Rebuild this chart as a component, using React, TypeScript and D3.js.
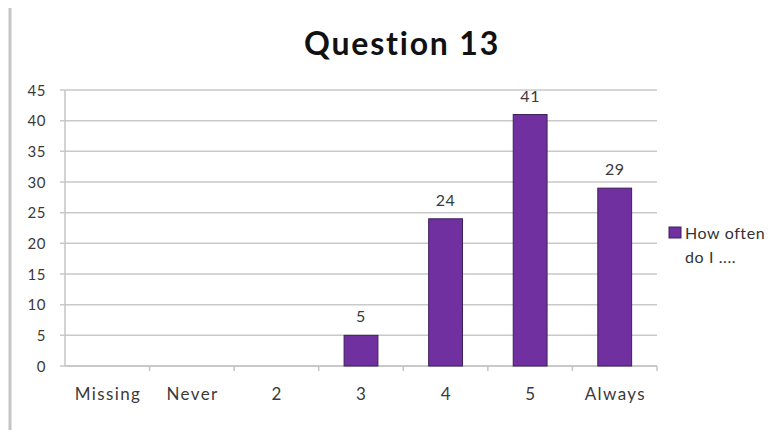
import { useEffect, useRef } from 'react'
import * as d3 from 'd3'

const categories = ['Missing', 'Never', '2', '3', '4', '5', 'Always']
const counts = [0, 0, 0, 5, 24, 41, 29]
const yTicks = [0, 5, 10, 15, 20, 25, 30, 35, 40, 45]
const seriesName = ['How often', 'do I ....']

const FONT = 'Lato, "Open Sans", sans-serif'

export default function App() {
  const svgRef = useRef<SVGSVGElement>(null)

  useEffect(() => {
    if (!svgRef.current) return
    const svg = d3.select(svgRef.current)
    svg.selectAll('*').remove()

    const left = 65
    const right = 657
    const top = 90
    const bottom = 366

    // outer frame (only top and left edges show in the picture)
    svg.append('line')
      .attr('x1', 8).attr('x2', 782).attr('y1', 5).attr('y2', 5)
      .attr('stroke', '#8f8f8f').attr('stroke-width', 2)
    svg.append('line')
      .attr('x1', 10).attr('x2', 10).attr('y1', 4).attr('y2', 438)
      .attr('stroke', '#c4c4c4').attr('stroke-width', 3)

    svg.append('text')
      .attr('x', 402).attr('y', 55)
      .attr('text-anchor', 'middle')
      .attr('font-family', FONT)
      .attr('font-weight', 'bold')
      .attr('font-size', 32)
      .attr('letter-spacing', 1.8)
      .attr('fill', '#111')
      .text('Question 13')

    const x = d3.scaleBand<string>().domain(categories).range([left, right]).paddingInner(0.6).paddingOuter(0.3)
    const xb = d3.scaleBand<string>().domain(categories).range([left, right])
    const y = d3.scaleLinear().domain([0, 45]).range([bottom, top])

    // gridlines + y labels
    const grid = svg.append('g')
    yTicks.forEach((t) => {
      grid.append('line')
        .attr('x1', left - 5).attr('x2', right)
        .attr('y1', y(t)).attr('y2', y(t))
        .attr('stroke', '#c9c9c9').attr('stroke-width', 1.5)
      grid.append('text')
        .attr('x', 46).attr('y', y(t) + 5.5)
        .attr('text-anchor', 'end')
        .attr('font-family', FONT)
        .attr('font-size', 15)
        .attr('letter-spacing', 0.5)
        .attr('fill', '#3a3a3a')
        .text(t)
    })

    // axes
    svg.append('line')
      .attr('x1', left).attr('x2', left).attr('y1', top).attr('y2', bottom)
      .attr('stroke', '#c4c4c4').attr('stroke-width', 1.5)
    svg.append('line')
      .attr('x1', left).attr('x2', right).attr('y1', bottom).attr('y2', bottom)
      .attr('stroke', '#c4c4c4').attr('stroke-width', 1.5)
    categories.forEach((c) => {
      const bx = (xb(c) ?? 0) + xb.bandwidth()
      svg.append('line')
        .attr('x1', bx).attr('x2', bx).attr('y1', bottom).attr('y2', bottom + 5)
        .attr('stroke', '#c4c4c4').attr('stroke-width', 1.5)
      svg.append('text')
        .attr('x', (xb(c) ?? 0) + xb.bandwidth() / 2 + 0.7).attr('y', 400)
        .attr('text-anchor', 'middle')
        .attr('font-family', FONT)
        .attr('font-size', 17)
        .attr('letter-spacing', 1.4)
        .attr('fill', '#3a3a3a')
        .text(c)
    })

    // bars
    const bars = svg.append('g')
    categories.forEach((c, i) => {
      const v = counts[i]
      if (v <= 0) return
      bars.append('rect')
        .attr('x', x(c) ?? 0).attr('y', y(v))
        .attr('width', x.bandwidth()).attr('height', y(0) - y(v))
        .attr('fill', '#7030a0')
        .attr('stroke', '#3f1f5c').attr('stroke-width', 1)
      bars.append('text')
        .attr('x', (x(c) ?? 0) + x.bandwidth() / 2).attr('y', y(v) - 13)
        .attr('text-anchor', 'middle')
        .attr('font-family', FONT)
        .attr('font-size', 16)
        .attr('letter-spacing', 0.5)
        .attr('fill', '#3a3a3a')
        .text(v)
    })

    // legend
    svg.append('rect')
      .attr('x', 669).attr('y', 227).attr('width', 12).attr('height', 11)
      .attr('fill', '#7030a0').attr('stroke', '#3f1f5c').attr('stroke-width', 1)
    seriesName.forEach((s, i) => {
      svg.append('text')
        .attr('x', 685).attr('y', 239 + i * 24)
        .attr('font-family', FONT)
        .attr('font-size', 16)
        .attr('letter-spacing', 0.6)
        .attr('fill', '#333')
        .text(s)
    })
  }, [])

  return (
    <div style={{ margin: -8 }}>
      <svg ref={svgRef} width={782} height={438} style={{ display: 'block', background: '#fff' }} />
    </div>
  )
}
